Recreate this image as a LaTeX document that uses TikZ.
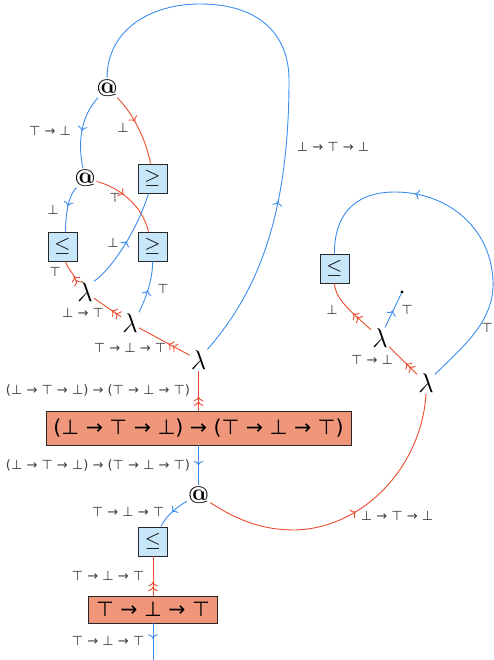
\RequirePackage{fix-cm}
\documentclass[tikz,border=0pt]{standalone}
\usepackage{fontspec}
\newfontfamily\dvs{DejaVu Sans}
\usetikzlibrary{arrows.meta,decorations.markings}
\definecolor{eblue}{RGB}{60,140,240}
\definecolor{ered}{RGB}{235,75,45}
\definecolor{bfill}{RGB}{200,230,250}
\definecolor{sfill}{RGB}{240,150,122}
\definecolor{lgray}{RGB}{60,60,60}
\tikzset{
  eb/.style={color=eblue, line width=0.9pt},
  er/.style={color=ered, line width=0.9pt},
  sa/.style={postaction={decorate,decoration={markings,mark=at position #1 with {\arrow{To[scale=1.3]}}}}},
  da/.style={postaction={decorate,decoration={markings,mark=at position #1 with {\arrow{To[scale=1.3]To[scale=1.3]}}}}},
  lab/.style={text=lgray, font=\dvs\fontsize{13}{15}\selectfont, inner sep=0pt},
  opn/.style={inner sep=1pt, font=\fontsize{27}{30}\selectfont},
  atn/.style={inner sep=1pt, font=\bfseries\fontsize{24}{28}\selectfont},
  cmpbox/.style={draw=black!85, line width=0.9pt, fill=bfill, minimum width=29pt, minimum height=29pt, inner sep=0pt, font=\fontsize{20.74}{24}\selectfont},
  typebox/.style={draw=black!85, line width=0.9pt, fill=sfill, inner sep=0pt, font=\dvs\fontsize{20.5}{24}\selectfont},
}
\begin{document}
\begin{tikzpicture}[x=1pt,y=-1pt]
\useasboundingbox (0,0) rectangle (493,660);
% nodes
\node[atn] (at1) at (107,88) {@};
\node[atn] (at2) at (85,178) {@};
\node[cmpbox] (ge1) at (152.5,178.5) {$\geq$};
\node[cmpbox] (le1) at (62.5,246.5) {$\leq$};
\node[cmpbox] (ge2) at (152.5,246.5) {$\geq$};
\node[opn] (lam1) at (85,292) {$\lambda$};
\node[opn] (lam2) at (130,323) {$\lambda$};
\node[opn] (lam3) at (198.5,360) {$\lambda$};
\node[typebox, minimum width=305pt, minimum height=34pt] (big) at (198.5,428) {(⊥ → ⊤ → ⊥) → (⊤ → ⊥ → ⊤)};
\node[atn] (at3) at (198.5,495) {@};
\node[cmpbox] (le3) at (153,541.5) {$\leq$};
\node[typebox, minimum width=129pt, minimum height=27pt] (box2) at (153,609.5) {⊤ → ⊥ → ⊤};
\coordinate (bot) at (153,662);
\node[cmpbox] (le4) at (334.5,268.5) {$\leq$};
\node[opn] (lam4) at (380,338) {$\lambda$};
\node[opn] (lam5) at (426,383) {$\lambda$};
\node[circle, fill=black, inner sep=0pt, minimum size=3.2pt] (dot) at (402,292) {};
% edges
\draw[eb, sa=0.3] (lam3.north east) .. controls (250,300) and (289,230) .. (289,80) .. controls (289,35) and (260,4) .. (200,4) .. controls (150,4) and (107,30) .. (at1.north);
\draw[eb, sa=0.5] (at1) .. controls (82,115) and (77,140) .. (at2);
\draw[er, sa=0.4] (at1) .. controls (130,110) and (145,135) .. ([xshift=-2pt]ge1.north);
\draw[eb, sa=0.45] (at2) .. controls (70,195) and (66,205) .. ([xshift=3pt]le1.north);
\draw[er, sa=0.4] (at2) .. controls (120,188) and (142,205) .. ([xshift=-4pt]ge2.north);
\draw[eb, sa=0.5] (lam1.north east) .. controls (113,268) and (138,228) .. ([xshift=-4pt]ge1.south);
\draw[er, da=0.25] (lam1.north west) .. controls (75,275) and (67,268) .. ([xshift=3pt]le1.south);
\draw[eb, sa=0.45] (lam2.north east) .. controls (145,300) and (153,280) .. (ge2.south);
\draw[er, da=0.35] (lam2) -- (lam1);
\draw[er, da=0.42] (lam3) -- (lam2);
\draw[er, da=0.35] (big) -- (lam3);
\draw[eb, sa=0.5] (big) -- (at3);
\draw[eb, sa=0.5] (at3) .. controls (180,505) and (166,515) .. ([xshift=8pt]le3.north);
\draw[er, da=0.35] (box2) -- (le3);
\draw[eb, sa=0.4] (box2) -- (bot);
\draw[er, sa=0.52] (at3) .. controls (240,522) and (265,530) .. (295,530) .. controls (365,528) and (422,465) .. (lam5.south);
\draw[er, da=0.4] (lam5) -- (lam4);
\draw[er, da=0.4] (lam4) .. controls (355,315) and (335,300) .. (le4.south);
\draw[eb, sa=0.5] (lam4) -- (dot);
\draw[eb, sa=0.67] (lam5) .. controls (465,345) and (495,320) .. (493,280) .. controls (490,225) and (445,192) .. (395,192) .. controls (350,192) and (334,220) .. (le4.north);
% labels
\node[lab] (l1) at (333,147) {⊥ → ⊤ → ⊥};
\node[lab] (l2) at (50,131) {⊤ → ⊥};
\node[lab] (l3) at (123,128) {⊥};
\node[lab] (l4) at (53,210) {⊥};
\node[lab] (l5) at (115,198) {⊤};
\node[lab] (l6) at (113,243) {⊥};
\node[lab] (l7) at (55,272) {⊤};
\node[lab] (l8) at (163,289) {⊤};
\node[lab] (l9) at (83,313) {⊥ → ⊤};
\node[lab] (l10) at (130,348) {⊤ → ⊥ → ⊤};
\node[lab] (l11) at (98,390) {(⊥ → ⊤ → ⊥) → (⊤ → ⊥ → ⊤)};
\node[lab] (l12) at (98,465) {(⊥ → ⊤ → ⊥) → (⊤ → ⊥ → ⊤)};
\node[lab] (l13) at (128,512) {⊤ → ⊥ → ⊤};
\node[lab] (l14) at (397,516) {⊥ → ⊤ → ⊥};
\node[lab] (l15) at (108,576) {⊤ → ⊥ → ⊤};
\node[lab] (l16) at (108,641) {⊤ → ⊥ → ⊤};
\node[lab] (l17) at (332,310) {⊥};
\node[lab] (l18) at (407,310) {⊤};
\node[lab] (l19) at (372,360) {⊤ → ⊥};
\node[lab] (l20) at (487,328) {⊤};
\end{tikzpicture}
\end{document}
